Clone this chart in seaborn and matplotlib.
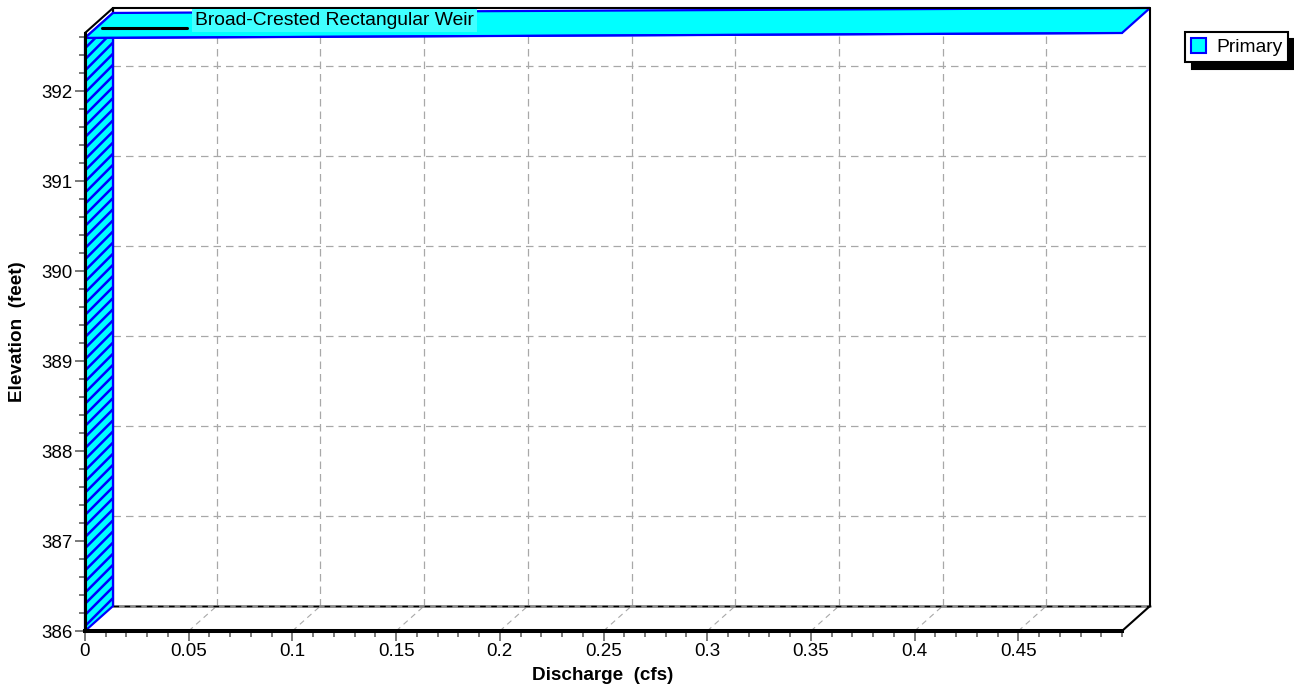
import numpy as np
import matplotlib.pyplot as plt
import matplotlib.transforms as mtransforms
from matplotlib.patches import Polygon, Patch
from matplotlib.ticker import MultipleLocator
import seaborn as sns

# rating curve of the pond outlet (discharge vs elevation)
discharge = [0.0, 0.0, 0.5]
elevation = [386.0, 392.59, 392.645]

x_ticks = [0, 0.05, 0.1, 0.15, 0.2, 0.25, 0.3, 0.35, 0.4, 0.45]
x_labels = ["0", "0.05", "0.1", "0.15", "0.2", "0.25", "0.3", "0.35", "0.4", "0.45"]
y_ticks = [386, 387, 388, 389, 390, 391, 392]
y_labels = ["386", "387", "388", "389", "390", "391", "392"]
x_lim = (0, 0.5)
y_lim = (386, 392.645)

curve_name = "Broad-Crested Rectangular Weir"
series_name = "Primary"

sns.set_theme(style="white")
plt.rcParams["font.family"] = ["Liberation Sans", "DejaVu Sans"]
plt.rcParams["hatch.linewidth"] = 1.8
plt.rcParams["text.color"] = "black"
plt.rcParams["xtick.labelcolor"] = "black"
plt.rcParams["ytick.labelcolor"] = "black"

W, H = 1294, 688
fig = plt.figure(figsize=(W / 100, H / 100), dpi=100)
L, R, T, B = 85, 1122, 33, 631
ax = fig.add_axes([L / W, 1 - B / H, (R - L) / W, (B - T) / H])
ax.set_xlim(*x_lim)
ax.set_ylim(*y_lim)

DX, DY = 28, 25  # depth of the 3d box in pixels
ident = mtransforms.IdentityTransform()


def P(x, y, d=0):
    # data point -> pixel, d=1 means back plane
    px = ax.transData.transform((x, y))
    return px + d * np.array([DX, DY])


def seg(p0, p1, **kw):
    ax.plot([p0[0], p1[0]], [p0[1], p1[1]], transform=ident, clip_on=False, **kw)


# back wall grid + floor diagonals
grid_kw = dict(color="#a8a8a8", lw=0.9, ls=(0, (6, 4)), zorder=1)
for xv in x_ticks[1:]:
    seg(P(xv, y_lim[0], 1), P(xv, y_lim[1], 1), **grid_kw)
    seg(P(xv, y_lim[0], 0), P(xv, y_lim[0], 1), color="#a8a8a8", lw=0.8, ls=(0, (5, 4)), zorder=1)
for yv in y_ticks[1:]:
    seg(P(x_lim[0], yv, 1), P(x_lim[1], yv, 1), **grid_kw)

# back floor edge
seg(P(x_lim[0], y_lim[0], 1), P(x_lim[1], y_lim[0], 1), color="#888888", lw=2.0, zorder=2)
seg(P(x_lim[0], y_lim[0], 1), P(x_lim[1], y_lim[0], 1), color="black", lw=1.0, ls=(0, (4, 4)), zorder=2)
# back left edge, hidden under the ribbon at the top
seg(P(x_lim[0], y_lim[0], 1), P(x_lim[0], y_lim[1], 1), color="black", lw=1.6, zorder=3)

# 3d ribbon of the curve
for i in range(len(discharge) - 1):
    x0, y0 = discharge[i], elevation[i]
    x1, y1 = discharge[i + 1], elevation[i + 1]
    pts = [P(x0, y0, 0), P(x1, y1, 0), P(x1, y1, 1), P(x0, y0, 1)]
    vertical = x0 == x1
    poly = Polygon(pts, closed=True, transform=ident, clip_on=False,
                   facecolor="#00ffff", edgecolor="blue", lw=1.6,
                   hatch="///" if vertical else None, zorder=4)
    ax.add_patch(poly)

sns.lineplot(x=discharge, y=elevation, sort=False, estimator=None, color="blue",
             lw=1.4, ax=ax, zorder=5, clip_on=False)

# box frame
frame_kw = dict(color="black", lw=1.5, zorder=6)
seg(P(x_lim[0], y_lim[1], 0), P(x_lim[0], y_lim[1], 1), **frame_kw)
seg(P(x_lim[0], y_lim[1], 1), P(x_lim[1], y_lim[1], 1), **frame_kw)
seg(P(x_lim[1], y_lim[0], 1), P(x_lim[1], y_lim[1], 1), **frame_kw)
seg(P(x_lim[1], y_lim[0], 0), P(x_lim[1], y_lim[0], 1), **frame_kw)

for s in ["top", "right"]:
    ax.spines[s].set_visible(False)
ax.spines["left"].set_linewidth(2.2)
ax.spines["bottom"].set_linewidth(2.9)
ax.spines["left"].set_color("black")
ax.spines["bottom"].set_color("black")
ax.spines["left"].set_zorder(7)
ax.spines["bottom"].set_zorder(7)

ax.set_xticks(x_ticks, x_labels)
ax.set_yticks(y_ticks, y_labels)
ax.xaxis.set_minor_locator(MultipleLocator(0.01))
ax.yaxis.set_minor_locator(MultipleLocator(0.2))
ax.tick_params(which="major", direction="out", length=7, width=1.1, color="#555555",
               labelcolor="black", labelsize=13.5, pad=2, bottom=True, left=True)
ax.tick_params(which="minor", direction="out", length=4, width=1.1, color="#555555",
               bottom=True, left=True)
ax.grid(False)

# axis titles
fig.text(18 / W, 1 - 332 / H, "Elevation  (feet)", rotation=90, ha="center", va="center",
         fontsize=13.6, fontweight="bold", color="black")
fig.text(603 / W, 1 - 675 / H, "Discharge  (cfs)", ha="center", va="center",
         fontsize=13.6, fontweight="bold", color="black")

# curve label
fig.add_artist(plt.Line2D([102 / W, 187 / W], [1 - 28 / H, 1 - 28 / H], color="black",
                          lw=2.2, transform=fig.transFigure, zorder=8))
fig.text(195 / W, 1 - 20.5 / H, curve_name, ha="left", va="center", fontsize=13.9, zorder=9,
         color="black", bbox=dict(facecolor="#40ffff", edgecolor="none", pad=2.2))

# legend
leg = fig.legend(handles=[Patch(facecolor="#00ffff", edgecolor="blue", lw=1.5)],
                 labels=[series_name], loc="upper left",
                 bbox_to_anchor=(1185 / W, 1 - 32 / H), frameon=True, fancybox=False,
                 edgecolor="black", framealpha=1,
                 shadow={"ox": 5, "oy": -5, "color": "black", "alpha": 1},
                 borderpad=0.3, handlelength=0.8, handleheight=0.8, handletextpad=0.5,
                 borderaxespad=0, fontsize=13.9, labelcolor="black")
leg.get_frame().set_linewidth(1.5)

fig.savefig("out.png", dpi=100)
